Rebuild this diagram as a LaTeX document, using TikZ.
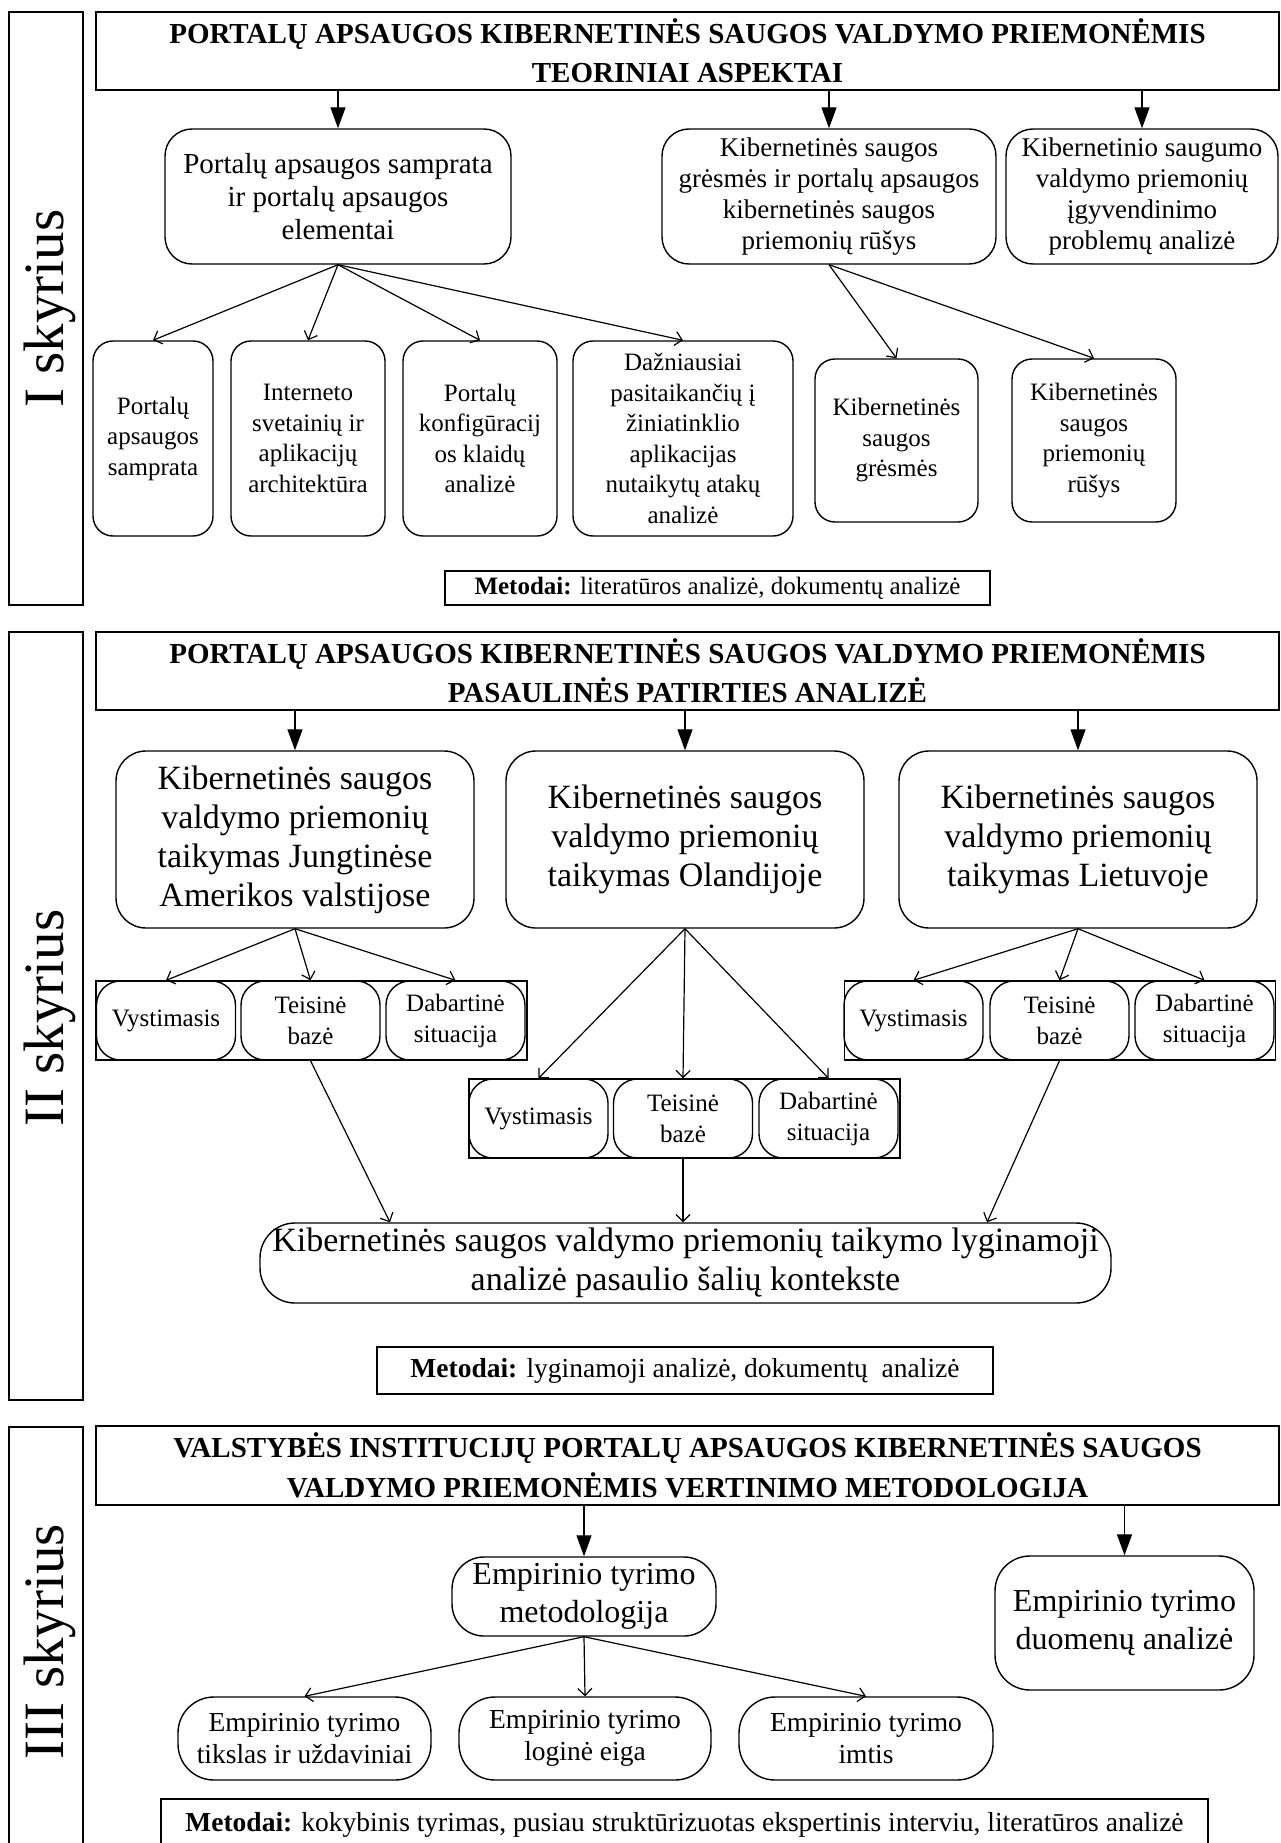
\documentclass[tikz,border=0pt]{standalone}
\usepackage{fontspec}
\setmainfont{Liberation Serif}
\usetikzlibrary{arrows.meta,calc}
\newcommand{\myfs}[2]{\fontsize{#1pt}{#2pt}\selectfont}
\tikzset{
  x=1pt, y=-1pt,
  frame/.style={draw, line width=1.4pt, inner sep=0pt, anchor=center},
  ttl/.style={frame, align=center, minimum width=1183pt, minimum height=78pt, font=\bfseries\myfs{29}{39}},
  lbl/.style={rotate=90, anchor=base, inner sep=0pt, font=\myfs{57}{60}},
  rbox/.style={frame, align=center, rounded corners=#1},
  rbox/.default=25pt,
  metbox/.style={draw, line width=1.2pt, inner sep=0pt, anchor=center},
  tarr/.style={line width=1.3pt, -{Triangle[length=21pt,width=15pt]}},
  farr/.style={line width=1.2pt, -{Straight Barb[length=7pt,width=14pt]}},
}
\begin{document}
\begin{tikzpicture}
\path[use as bounding box] (0,0) rectangle (1281,1843);
\clip (0,0) rectangle (1281,1843);

% ================= Section I =================
\node[frame, minimum width=74pt, minimum height=593pt] (lab1) at (46,308.5) {};
\node[lbl] (lab1t) at (63,308.5) {I skyrius};
\node[ttl] (t1) at (687.5,51) {PORTALŲ APSAUGOS KIBERNETINĖS SAUGOS VALDYMO PRIEMONĖMIS\\TEORINIAI ASPEKTAI};

\node[rbox=27pt, minimum width=346pt, minimum height=135pt, font=\myfs{29}{33}] (b1) at (338,196.5)
  {Portalų apsaugos samprata\\ir portalų apsaugos\\elementai};
\node[rbox=27pt, minimum width=334pt, minimum height=135pt, font=\myfs{27}{31}] (k1) at (829,196.5)
  {Kibernetinės saugos\\grėsmės ir portalų apsaugos\\kibernetinės saugos\\priemonių rūšys};
\node[rbox=27pt, minimum width=272pt, minimum height=135pt, font=\myfs{27}{31}] (k2) at (1142,196.5)
  {Kibernetinio saugumo\\valdymo priemonių\\įgyvendinimo\\problemų analizė};

\draw[tarr] (t1.south -| b1.north) -- (b1.north);
\draw[tarr] (t1.south -| k1.north) -- (k1.north);
\draw[tarr] (t1.south -| k2.north) -- (k2.north);

\tikzset{ch1/.style={rbox=20pt, minimum height=195pt, font=\myfs{25}{30.5}}}
\node[ch1, minimum width=120pt] (c1) at (153,438.5) {Portalų\\apsaugos\\samprata};
\node[ch1, minimum width=154pt] (c2) at (308,438.5) {Interneto\\svetainių ir\\aplikacijų\\architektūra};
\node[ch1, minimum width=154pt] (c3) at (480,438.5) {Portalų\\konfigūracij\\os klaidų\\analizė};
\node[ch1, minimum width=220pt] (c4) at (683,438.5) {Dažniausiai\\pasitaikančių į\\žiniatinklio\\aplikacijas\\nutaikytų atakų\\analizė};
\node[rbox=20pt, minimum width=163pt, minimum height=163pt, font=\myfs{25}{30.5}] (ka) at (896.5,440.5) {Kibernetinės\\saugos\\grėsmės};
\node[rbox=20pt, minimum width=164pt, minimum height=163pt, font=\myfs{25}{30.5}] (kb) at (1094,440.5) {Kibernetinės\\saugos\\priemonių\\rūšys};

\foreach \c in {c1,c2,c3,c4} \draw[farr] (b1.south) -- (\c.north);
\draw[farr] (k1.south) -- (ka.north);
\draw[farr] (k1.south) -- (kb.north);

\node[metbox, minimum width=545pt, minimum height=34pt, font=\myfs{25}{28}] (m1) at (717.5,588)
  {\textbf{Metodai:} literatūros analizė, dokumentų analizė};

% ================= Section II =================
\node[frame, minimum width=74pt, minimum height=768pt] (lab2) at (46,1016) {};
\node[lbl] (lab2t) at (63,1018) {II skyrius};
\node[ttl] (t2) at (687.5,671) {PORTALŲ APSAUGOS KIBERNETINĖS SAUGOS VALDYMO PRIEMONĖMIS\\PASAULINĖS PATIRTIES ANALIZĖ};

\tikzset{big/.style={rbox=30pt, minimum width=358pt, minimum height=177pt, font=\myfs{34}{39}}}
\node[big] (us) at (295,839.5) {Kibernetinės saugos\\valdymo priemonių\\taikymas Jungtinėse\\Amerikos valstijose};
\node[big] (nl) at (685,839.5) {Kibernetinės saugos\\valdymo priemonių\\taikymas Olandijoje};
\node[big] (lt) at (1078,839.5) {Kibernetinės saugos\\valdymo priemonių\\taikymas Lietuvoje};

\draw[tarr] (t2.south -| us.north) -- (us.north);
\draw[tarr] (t2.south -| nl.north) -- (nl.north);
\draw[tarr] (t2.south -| lt.north) -- (lt.north);

\tikzset{sub/.style={rbox=24pt, minimum height=79pt, minimum width=139pt, font=\myfs{25}{31}},
         row/.style={frame, minimum width=431pt, minimum height=79pt}}
% US row
\node[row] (usr) at (311.5,1020.5) {};
\node[sub] (usv) at (166,1020.5) {Vystimasis};
\node[sub] (ust) at (310.5,1020.5) {Teisinė\\bazė};
\node[sub] (usd) at (455.5,1020.5) {Dabartinė\\situacija};
% NL row
\node[row] (nlr) at (684.5,1118.5) {};
\node[sub] (nlv) at (538.5,1118.5) {Vystimasis};
\node[sub] (nlt) at (683,1118.5) {Teisinė\\bazė};
\node[sub] (nld) at (828.5,1118.5) {Dabartinė\\situacija};
% LT row
\node[row] (ltr) at (1060,1020.5) {};
\node[sub] (ltv) at (913.5,1020.5) {Vystimasis};
\node[sub] (ltt) at (1059.5,1020.5) {Teisinė\\bazė};
\node[sub] (ltd) at (1204.5,1020.5) {Dabartinė\\situacija};

\foreach \s in {usv,ust,usd} \draw[farr] (us.south) -- (\s.north);
\foreach \s in {nlv,nlt,nld} \draw[farr] (nl.south) -- (\s.north);
\foreach \s in {ltv,ltt,ltd} \draw[farr] (lt.south) -- (\s.north);

\node[rbox=35pt, minimum width=851pt, minimum height=80pt, font=\myfs{34}{39}] (fin) at (685.5,1263)
  {Kibernetinės saugos valdymo priemonių taikymo lyginamoji\\analizė pasaulio šalių kontekste};

\draw[farr] (ust.south) -- ($(fin.north)+(-295.5,0)$);
\draw[farr] (nlt.south) -- (nlt.south |- fin.north);
\draw[farr] (ltt.south) -- ($(fin.north)+(301.5,0)$);

\node[metbox, minimum width=616pt, minimum height=47pt, font=\myfs{27.5}{30}] (m2) at (685,1370.5)
  {\textbf{Metodai:} lyginamoji analizė, dokumentų\ \ analizė};

% ================= Section III =================
\node[frame, minimum width=74pt, minimum height=430pt] (lab3) at (46,1642) {};
\node[lbl] (lab3t) at (63,1642) {III skyrius};
\node[ttl, font=\bfseries\myfs{29}{40}, minimum height=79pt] (t3) at (687.5,1465.5)
  {VALSTYBĖS INSTITUCIJŲ PORTALŲ APSAUGOS KIBERNETINĖS SAUGOS\\VALDYMO PRIEMONĖMIS VERTINIMO METODOLOGIJA};

\node[rbox=32pt, minimum width=264pt, minimum height=79pt, font=\myfs{32}{38}] (me) at (584,1596.5)
  {Empirinio tyrimo\\metodologija};
\node[rbox=35pt, minimum width=259pt, minimum height=134pt, font=\myfs{32}{38}] (du) at (1124.5,1623)
  {Empirinio tyrimo\\duomenų analizė};

\draw[tarr] (t3.south -| me.north) -- (me.north);
\draw[tarr] (t3.south -| du.north) -- (du.north);

\tikzset{ch3/.style={rbox=36pt, minimum height=83pt, font=\myfs{27.5}{32}}}
\node[ch3, minimum width=253pt] (e1) at (304.5,1738.5) {Empirinio tyrimo\\tikslas ir uždaviniai};
\node[ch3, minimum width=252pt] (e2) at (585,1738.5) {Empirinio tyrimo\\loginė eiga};
\node[ch3, minimum width=254pt] (e3) at (866,1738.5) {Empirinio tyrimo\\imtis};

\foreach \e in {e1,e2,e3} \draw[farr] (me.south) -- (\e.north);

\node[metbox, minimum width=1047pt, minimum height=52pt, font=\myfs{27.5}{30}] (m3) at (684.5,1825)
  {\textbf{Metodai:} kokybinis tyrimas, pusiau struktūrizuotas ekspertinis interviu, literatūros analizė};
\end{tikzpicture}
\end{document}
